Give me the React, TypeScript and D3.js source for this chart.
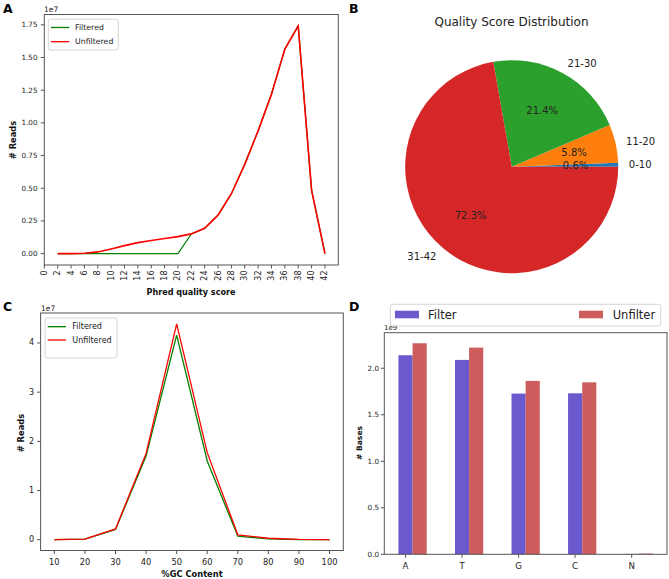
import React from 'react';
import * as d3 from 'd3';

// ---------- Data ----------
const phredScores = [2, 4, 6, 8, 10, 12, 14, 16, 18, 20, 22, 24, 26, 28, 30, 32, 34, 36, 38, 40, 42];
const phredUnfiltered = [0, 0, 0.003, 0.013, 0.036, 0.061, 0.084, 0.1, 0.115, 0.13, 0.151, 0.194, 0.294, 0.458, 0.683, 0.939, 1.22, 1.565, 1.742, 0.486, 0];
const phredFiltered = [0, 0, 0, 0, 0, 0, 0, 0, 0, 0, 0.151, 0.194, 0.294, 0.458, 0.683, 0.939, 1.22, 1.565, 1.742, 0.486, 0];
const phredXTicks = [0, 2, 4, 6, 8, 10, 12, 14, 16, 18, 20, 22, 24, 26, 28, 30, 32, 34, 36, 38, 40, 42];
const phredYTicks = [0, 0.25, 0.5, 0.75, 1.0, 1.25, 1.5, 1.75];

const pieLabels = ['0-10', '11-20', '21-30', '31-42'];
const piePercents = [0.6, 5.8, 21.4, 72.3];
const pieColors = ['#1f77b4', '#ff7f0e', '#2ca02c', '#d62728'];

const gcContent = [10, 20, 30, 40, 50, 60, 70, 80, 90, 100];
const gcFiltered = [0, 0.01, 0.21, 1.7, 4.16, 1.6, 0.07, 0.015, 0.003, 0];
const gcUnfiltered = [0, 0.01, 0.22, 1.755, 4.39, 1.77, 0.1, 0.03, 0.005, 0];
const gcYTicks = [0, 1, 2, 3, 4];

const bases = ['A', 'T', 'G', 'C', 'N'];
const basesFiltered = [2.14, 2.09, 1.728, 1.731, 0.004];
const basesUnfiltered = [2.269, 2.222, 1.864, 1.849, 0.008];
const basesYTicks = [0, 0.5, 1.0, 1.5, 2.0];

const FONT = '"DejaVu Sans", sans-serif';
const SPINE = '#555';

function Legend({ x, y, w, h, lineX, textX, rows, fs }: any) {
  return (
    <g>
      <rect x={x} y={y} width={w} height={h} rx={2} fill="white" fillOpacity={0.8} stroke="#ccc" strokeWidth={0.8} />
      {rows.map((r: any, i: number) => (
        <g key={i}>
          <line x1={lineX[0]} x2={lineX[1]} y1={r.y} y2={r.y} stroke={r.color} strokeWidth={1.3} />
          <text x={textX} y={r.y} fontSize={fs} dominantBaseline="central" fill="#222">{r.label}</text>
        </g>
      ))}
    </g>
  );
}

function PanelA() {
  const x = d3.scaleLinear().domain([0, 44]).range([44.3, 338.3]);
  const maxV = d3.max(phredUnfiltered) as number;
  const pad = maxV * 0.05;
  const y = d3.scaleLinear().domain([-pad, maxV + pad]).range([265, 14.5]);
  const line = d3.line<number>().x((_, i) => x(phredScores[i])).y((d) => y(d));
  return (
    <g>
      <rect x={44.3} y={14.5} width={294} height={250.5} fill="white" stroke={SPINE} strokeWidth={1} />
      <path d={line(phredFiltered) || ''} fill="none" stroke="#008000" strokeWidth={1.2} />
      <path d={line(phredUnfiltered) || ''} fill="none" stroke="#ff0000" strokeWidth={1.6} />
      {phredYTicks.map((t) => (
        <g key={t}>
          <line x1={40.8} x2={44.3} y1={y(t)} y2={y(t)} stroke={SPINE} />
          <text x={37.5} y={y(t)} fontSize={7.2} textAnchor="end" dominantBaseline="central" fill="#222">{t.toFixed(2)}</text>
        </g>
      ))}
      {phredXTicks.map((t) => (
        <g key={t}>
          <line x1={x(t)} x2={x(t)} y1={265} y2={268.5} stroke={SPINE} />
          <text transform={`translate(${x(t)},270.5) rotate(-90)`} fontSize={8} textAnchor="end" dominantBaseline="central" fill="#222">{t}</text>
        </g>
      ))}
      <text x={44} y={12} fontSize={7.5} fill="#222">1e7</text>
      <text x={191} y={292} fontSize={8.1} fontWeight="bold" textAnchor="middle" dominantBaseline="central" fill="#111">Phred quality score</text>
      <text transform="translate(13,140) rotate(-90)" fontSize={8.3} fontWeight="bold" textAnchor="middle" dominantBaseline="central" fill="#111"># Reads</text>
      <Legend x={48.3} y={19.3} w={70} h={30.7} lineX={[51, 69.3]} textX={75} fs={7.8}
        rows={[{ y: 27.5, color: '#008000', label: 'Filtered' }, { y: 41.7, color: '#ff0000', label: 'Unfiltered' }]} />
      <text x={3} y={12.5} fontSize={12.5} fontWeight="bold" fill="#000">A</text>
    </g>
  );
}

function PanelB() {
  const cx = 511.7, cy = 166.7, r = 106.5;
  const pie = d3.pie<number>().sort(null).value((d) => d).startAngle(Math.PI / 2).endAngle(Math.PI / 2 - 2 * Math.PI);
  const arcs = pie(piePercents);
  const arc = d3.arc<any>().innerRadius(0).outerRadius(r);
  return (
    <g>
      <text x={511.5} y={22} fontSize={12} textAnchor="middle" dominantBaseline="central" fill="#222">Quality Score Distribution</text>
      <g transform={`translate(${cx},${cy})`}>
        {arcs.map((a, i) => (
          <path key={i} d={arc(a) || ''} fill={pieColors[i]} />
        ))}
        {arcs.map((a, i) => {
          const m = (a.startAngle + a.endAngle) / 2;
          const lx = 1.1 * r * Math.sin(m), ly = -1.1 * r * Math.cos(m);
          const px = 0.6 * r * Math.sin(m), py = -0.6 * r * Math.cos(m);
          return (
            <g key={'t' + i}>
              <text x={lx} y={ly} fontSize={10} textAnchor={lx > 0 ? 'start' : 'end'} dominantBaseline="central" fill="#222">{pieLabels[i]}</text>
              <text x={px} y={py} fontSize={10} textAnchor="middle" dominantBaseline="central" fill="#222">{piePercents[i].toFixed(1)}%</text>
            </g>
          );
        })}
      </g>
      <text x={349} y={12.5} fontSize={12.5} fontWeight="bold" fill="#000">B</text>
    </g>
  );
}

function PanelC() {
  const x = d3.scaleLinear().domain([5.5, 104.5]).range([40.6, 343.3]);
  const maxV = d3.max(gcUnfiltered) as number;
  const pad = maxV * 0.05;
  const y = d3.scaleLinear().domain([-pad, maxV + pad]).range([550.5, 313]);
  const line = d3.line<number>().x((_, i) => x(gcContent[i])).y((d) => y(d));
  return (
    <g>
      <rect x={40.6} y={313} width={302.7} height={237.5} fill="white" stroke={SPINE} strokeWidth={1} />
      <path d={line(gcFiltered) || ''} fill="none" stroke="#008000" strokeWidth={1.3} />
      <path d={line(gcUnfiltered) || ''} fill="none" stroke="#ff0000" strokeWidth={1.3} />
      {gcYTicks.map((t) => (
        <g key={t}>
          <line x1={37.1} x2={40.6} y1={y(t)} y2={y(t)} stroke={SPINE} />
          <text x={34} y={y(t)} fontSize={8} textAnchor="end" dominantBaseline="central" fill="#222">{t}</text>
        </g>
      ))}
      {gcContent.map((t) => (
        <g key={t}>
          <line x1={x(t)} x2={x(t)} y1={550.5} y2={554} stroke={SPINE} />
          <text x={x(t)} y={562} fontSize={8.3} textAnchor="middle" dominantBaseline="central" fill="#222">{t}</text>
        </g>
      ))}
      <text x={41} y={310.5} fontSize={7.5} fill="#222">1e7</text>
      <text x={192} y={573.5} fontSize={8.3} fontWeight="bold" textAnchor="middle" dominantBaseline="central" fill="#111">%GC Content</text>
      <text transform="translate(21,433) rotate(-90)" fontSize={8.4} fontWeight="bold" textAnchor="middle" dominantBaseline="central" fill="#111"># Reads</text>
      <Legend x={45} y={318} w={72} h={40} lineX={[47.7, 66]} textX={72.3} fs={8}
        rows={[{ y: 326.7, color: '#008000', label: 'Filtered' }, { y: 340, color: '#ff0000', label: 'Unfiltered' }]} />
      <text x={3} y={311} fontSize={12.5} fontWeight="bold" fill="#000">C</text>
    </g>
  );
}

function PanelD() {
  const x = d3.scaleLinear().domain([-0.375, 4.625]).range([384.3, 667]);
  const maxV = d3.max(basesUnfiltered) as number;
  const y = d3.scaleLinear().domain([0, maxV * 1.05]).range([554.3, 332.7]);
  const bw = x(0.25) - x(0);
  return (
    <g>
      <rect x={384.3} y={332.7} width={282.7} height={221.6} fill="white" stroke="none" />
      {bases.map((b, i) => (
        <g key={b}>
          <rect x={x(i - 0.125)} y={y(basesFiltered[i])} width={bw} height={y(0) - y(basesFiltered[i])} fill="#6a5acd" />
          <rect x={x(i + 0.125)} y={y(basesUnfiltered[i])} width={bw} height={y(0) - y(basesUnfiltered[i])} fill="#cd5c5c" />
        </g>
      ))}
      <rect x={384.3} y={332.7} width={282.7} height={221.6} fill="none" stroke={SPINE} strokeWidth={1} />
      {basesYTicks.map((t) => (
        <g key={t}>
          <line x1={380.8} x2={384.3} y1={y(t)} y2={y(t)} stroke={SPINE} />
          <text x={379} y={y(t)} fontSize={7.2} textAnchor="end" dominantBaseline="central" fill="#222">{t.toFixed(1)}</text>
        </g>
      ))}
      {bases.map((b, i) => (
        <g key={'x' + b}>
          <line x1={x(i)} x2={x(i)} y1={554.3} y2={557.8} stroke={SPINE} />
          <text x={x(i)} y={565.5} fontSize={8.6} textAnchor="middle" dominantBaseline="central" fill="#222">{b}</text>
        </g>
      ))}
      <text x={384} y={330} fontSize={7} fill="#222">1e9</text>
      <text transform="translate(359,443) rotate(-90)" fontSize={7.6} fontWeight="bold" textAnchor="middle" dominantBaseline="central" fill="#111"># Bases</text>
      <g>
        <rect x={390.3} y={304.3} width={270.4} height={21.7} rx={2} fill="white" fillOpacity={0.85} stroke="#ccc" strokeWidth={0.8} />
        <rect x={395} y={310.7} width={24} height={7.6} fill="#6a5acd" />
        <text x={428} y={314.8} fontSize={11.5} dominantBaseline="central" fill="#222">Filter</text>
        <rect x={579} y={310.7} width={24} height={7.6} fill="#cd5c5c" />
        <text x={612.7} y={314.8} fontSize={11.5} dominantBaseline="central" fill="#222">Unfilter</text>
      </g>
      <text x={349} y={311} fontSize={12.5} fontWeight="bold" fill="#000">D</text>
    </g>
  );
}

export default function App() {
  return (
    <svg width={669} height={579} style={{ position: 'absolute', left: 0, top: 0, background: 'white' }} fontFamily={FONT}>
      <rect width={669} height={579} fill="white" />
      <PanelA />
      <PanelB />
      <PanelC />
      <PanelD />
    </svg>
  );
}
